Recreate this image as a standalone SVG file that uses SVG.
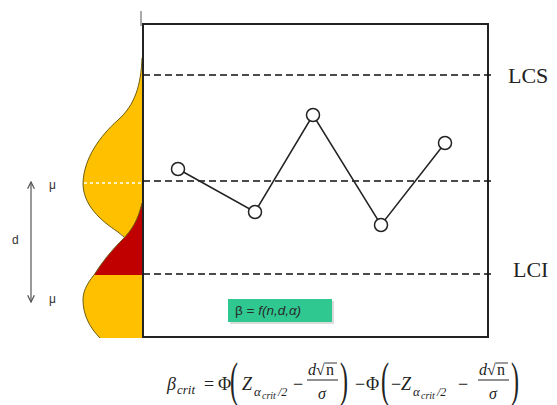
<svg xmlns="http://www.w3.org/2000/svg" width="557" height="405" viewBox="0 0 557 405">
  <style>
    .dash { stroke: #111; stroke-width: 1.4; stroke-dasharray: 7 4; fill: none; }
    .pt { fill: #fff; stroke: #222; stroke-width: 1.5; }
    .lbl { font-family: "Liberation Serif", serif; font-size: 22px; fill: #222; }
    .sans { font-family: "Liberation Sans", Arial, sans-serif; font-size: 12px; fill: #333; }
    .m { font-family: "Liberation Serif", "DejaVu Serif", serif; fill: #222; }
    .mi { font-family: "Liberation Serif", "DejaVu Serif", serif; font-style: italic; fill: #222; }
    .curve { fill: none; stroke: #6b5d12; stroke-width: 1; }
  </style>
  <defs>
    <marker id="ah" viewBox="0 0 10 10" refX="9" refY="5" markerWidth="7" markerHeight="7" orient="auto-start-reverse">
      <path d="M1,1 L9,5 L1,9" fill="none" stroke="#555" stroke-width="1.5"/>
    </marker>
  </defs>
  <rect width="557" height="405" fill="#fff"/>

  <!-- distributions -->
  <g id="distributions">
    <path d="M142,58 C141,85 135,105 118,120 C100,136 84,158 83,183 C83,205 100,220 118,232 C130,240 138,250 142,262 Z" fill="#FFC000"/>
    <path class="curve" d="M142,58 C141,85 135,105 118,120 C100,136 84,158 83,183 C83,205 100,220 118,232 L124,237"/>
    <path d="M142,203 C138,220 132,230 122,240 C112,250 102,262 94,275 L142,275 Z" fill="#C00000"/>
    <path class="curve" d="M142,203 C138,220 132,230 122,240 C112,250 102,262 94,275"/>
    <path d="M142,275 L94,275 C86,285 83,292 83,300 C83,315 90,328 100,338 L142,338 Z" fill="#FFC000"/>
    <path class="curve" d="M94,275 C86,285 83,292 83,300 C83,315 90,328 100,338"/>
    <line x1="84" y1="183" x2="142" y2="183" stroke="#fff" stroke-width="1.5" stroke-dasharray="3 3"/>
  </g>

  <!-- chart frame -->
  <g id="chart">
    <line x1="141" y1="11" x2="141" y2="26" stroke="#aaa" stroke-width="2"/>
    <rect x="143" y="24" width="345" height="313" fill="none" stroke="#222" stroke-width="2"/>
    <line class="dash" x1="143" y1="75" x2="494" y2="75"/>
    <line class="dash" x1="143" y1="181" x2="494" y2="181"/>
    <line class="dash" x1="143" y1="274" x2="494" y2="274"/>
  </g>

  <g id="label-LCS"><text class="lbl" x="508" y="83">LCS</text></g>
  <g id="label-LCI"><text class="lbl" x="513" y="277">LCI</text></g>

  <!-- connectors -->
  <g id="connectors">
    <polyline points="178,169 255,212 313,115 381,225 445,143" fill="none" stroke="#222" stroke-width="1.5"/>
    <line x1="31" y1="182" x2="31" y2="302" stroke="#555" stroke-width="1.2" marker-start="url(#ah)" marker-end="url(#ah)"/>
  </g>

  <g id="p1"><circle class="pt" cx="178" cy="169" r="6.5"/></g>
  <g id="p2"><circle class="pt" cx="255" cy="212" r="6.5"/></g>
  <g id="p3"><circle class="pt" cx="313" cy="115" r="6.5"/></g>
  <g id="p4"><circle class="pt" cx="381" cy="225" r="6.5"/></g>
  <g id="p5"><circle class="pt" cx="445" cy="143" r="6.5"/></g>

  <g id="labels-left">
    <text class="sans" x="12" y="244">d</text>
    <text class="sans" x="49" y="189">μ</text>
    <text class="sans" x="49" y="303">μ</text>
  </g>

  <g id="beta-box">
    <rect x="230" y="301" width="104" height="23" fill="#999" opacity="0.35"/>
    <rect x="228" y="299" width="104" height="23" fill="#2FC891"/>
    <text x="235" y="315" font-family="Liberation Sans, Arial, sans-serif" font-size="13.5" fill="#2a2a2a">β = <tspan font-style="italic">f(n,d,α)</tspan></text>
  </g>

  <g id="formula">
    <text class="mi" x="167" y="390" font-size="18">β</text>
    <text class="mi" x="177" y="394" font-size="13">crit</text>
    <text class="m" x="204" y="390" font-size="18">=</text>
    <text class="m" x="218" y="390" font-size="18">Φ</text>
    <text class="m" font-size="24" transform="translate(230,396) scale(1,2)">(</text>
    <text class="mi" x="242" y="390" font-size="18">Z</text>
    <text class="mi" x="254" y="396" font-size="13">α</text>
    <text class="mi" x="262" y="399" font-size="10">crit</text>
    <text class="mi" x="278" y="396" font-size="12">/2</text>
    <text class="m" x="293" y="390" font-size="18">−</text>
    <text class="mi" x="308" y="375" font-size="16">d</text>
    <text class="m" x="316" y="375" font-size="16">√</text>
    <line x1="325" y1="363" x2="337" y2="363" stroke="#222" stroke-width="0.9"/>
    <text class="m" x="326" y="375" font-size="16">n</text>
    <line x1="307" y1="380" x2="338" y2="380" stroke="#222" stroke-width="1"/>
    <text class="mi" x="318" y="399" font-size="16">σ</text>
    <text class="m" font-size="24" transform="translate(340,396) scale(1,2)">)</text>
    <text class="m" x="355" y="390" font-size="18">−</text>
    <text class="m" x="366" y="390" font-size="18">Φ</text>
    <text class="m" font-size="24" transform="translate(381,396) scale(1,2)">(</text>
    <text class="m" x="391" y="390" font-size="18">−</text>
    <text class="mi" x="401" y="390" font-size="18">Z</text>
    <text class="mi" x="413" y="396" font-size="13">α</text>
    <text class="mi" x="421" y="399" font-size="10">crit</text>
    <text class="mi" x="437" y="396" font-size="12">/2</text>
    <text class="m" x="458" y="390" font-size="18">−</text>
    <text class="mi" x="479" y="375" font-size="16">d</text>
    <text class="m" x="487" y="375" font-size="16">√</text>
    <line x1="496" y1="363" x2="508" y2="363" stroke="#222" stroke-width="0.9"/>
    <text class="m" x="497" y="375" font-size="16">n</text>
    <line x1="478" y1="380" x2="509" y2="380" stroke="#222" stroke-width="1"/>
    <text class="mi" x="489" y="399" font-size="16">σ</text>
    <text class="m" font-size="24" transform="translate(511,396) scale(1,2)">)</text>
  </g>
</svg>
